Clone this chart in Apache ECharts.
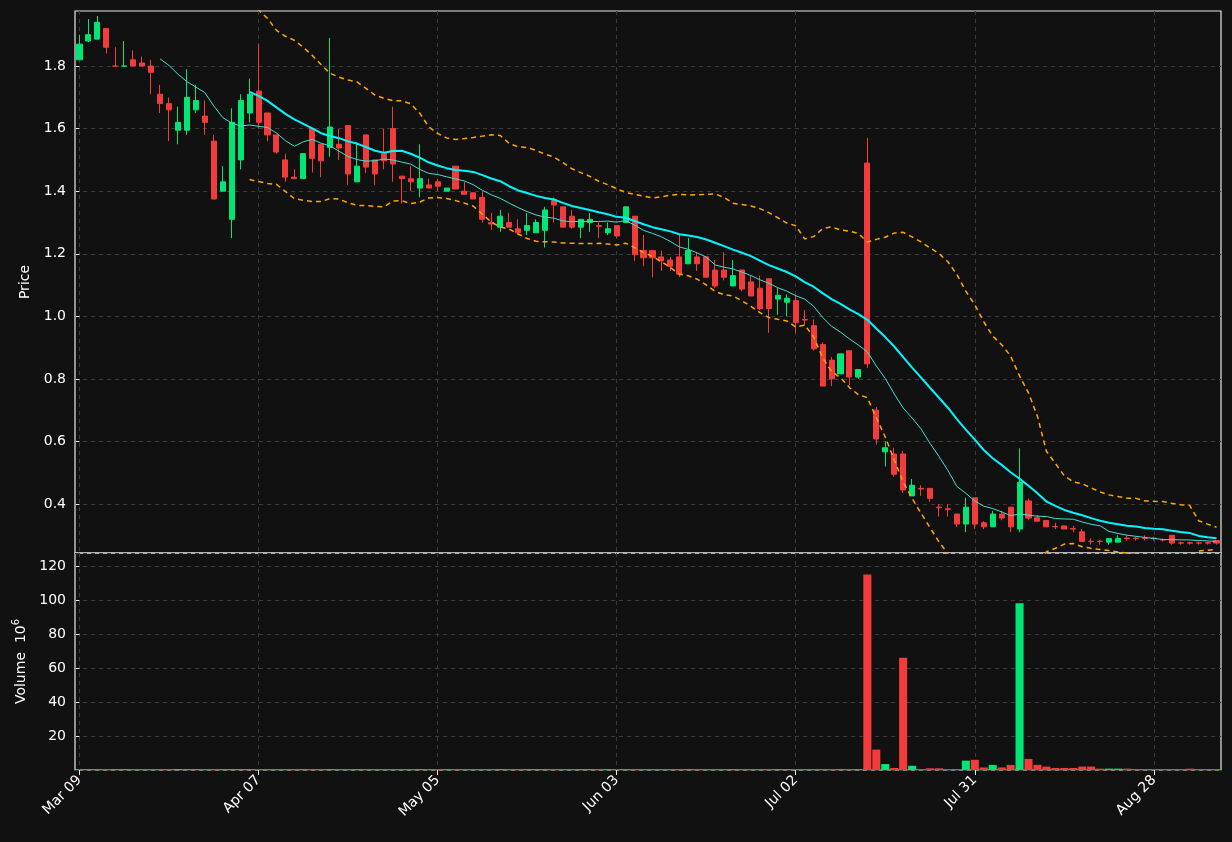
<!DOCTYPE html>
<html><head><meta charset="utf-8">
<script src="https://cdn.jsdelivr.net/npm/echarts@6/dist/echarts.min.js"></script>
<style>html,body{margin:0;background:#111111;}#c{width:1232px;height:842px;}</style>
</head><body><div id="c"></div>
<script>
const tickLabels = ['Mar 09','Apr 07','May 05','Jun 03','Jul 02','Jul 31','Aug 28'];
const priceTicks = [0.4,0.6,0.8,1.0,1.2,1.4,1.6,1.8];
// [open, close, low, high]
const ohlc = [
[1.82,1.87,1.82,1.90],[1.88,1.90,1.877,1.95],[1.886,1.94,1.886,1.96],[1.92,1.86,1.84,1.92],
[1.80,1.80,1.80,1.86],[1.80,1.80,1.80,1.88],[1.82,1.80,1.80,1.85],[1.81,1.80,1.80,1.83],
[1.80,1.78,1.71,1.82],[1.71,1.68,1.65,1.74],[1.68,1.66,1.56,1.70],[1.595,1.62,1.55,1.67],
[1.595,1.70,1.58,1.79],[1.66,1.69,1.65,1.74],[1.64,1.62,1.58,1.69],[1.56,1.375,1.375,1.58],
[1.40,1.43,1.40,1.48],[1.31,1.62,1.25,1.665],[1.50,1.69,1.47,1.71],[1.65,1.71,1.62,1.76],
[1.72,1.62,1.60,1.87],[1.65,1.58,1.56,1.65],[1.58,1.525,1.52,1.58],[1.50,1.445,1.43,1.52],
[1.445,1.44,1.44,1.47],[1.44,1.52,1.44,1.52],[1.60,1.505,1.46,1.60],[1.55,1.497,1.445,1.55],
[1.54,1.605,1.51,1.89],[1.55,1.538,1.50,1.60],[1.61,1.455,1.42,1.61],[1.43,1.48,1.43,1.555],
[1.58,1.477,1.458,1.58],[1.50,1.455,1.42,1.50],[1.52,1.497,1.47,1.60],[1.60,1.487,1.43,1.67],
[1.448,1.44,1.36,1.448],[1.44,1.43,1.40,1.48],[1.41,1.44,1.38,1.55],[1.42,1.41,1.41,1.44],
[1.43,1.416,1.40,1.44],[1.40,1.41,1.40,1.41],[1.48,1.407,1.407,1.48],[1.40,1.39,1.39,1.43],
[1.395,1.375,1.375,1.395],[1.38,1.31,1.30,1.40],[1.30,1.295,1.276,1.33],[1.285,1.32,1.27,1.34],
[1.30,1.285,1.285,1.33],[1.28,1.267,1.267,1.31],[1.275,1.29,1.26,1.33],[1.267,1.30,1.267,1.31],
[1.275,1.34,1.22,1.35],[1.37,1.356,1.30,1.38],[1.35,1.285,1.285,1.35],[1.32,1.285,1.28,1.34],
[1.285,1.31,1.25,1.31],[1.30,1.31,1.27,1.33],[1.29,1.288,1.25,1.30],[1.267,1.28,1.26,1.30],
[1.29,1.257,1.25,1.29],[1.30,1.35,1.30,1.35],[1.32,1.197,1.177,1.32],[1.21,1.187,1.16,1.26],
[1.21,1.187,1.125,1.21],[1.19,1.177,1.145,1.21],[1.18,1.16,1.145,1.19],[1.19,1.135,1.125,1.26],
[1.168,1.21,1.168,1.25],[1.19,1.168,1.145,1.205],[1.19,1.125,1.125,1.19],[1.148,1.097,1.09,1.18],
[1.148,1.125,1.115,1.205],[1.097,1.13,1.097,1.18],[1.148,1.087,1.08,1.148],[1.11,1.065,1.065,1.13],
[1.09,1.025,1.02,1.13],[1.12,1.025,0.947,1.12],[1.055,1.067,1.005,1.09],[1.045,1.058,1.0,1.07],
[1.05,0.98,0.947,1.07],[0.99,0.988,0.97,1.02],[0.97,0.896,0.89,0.99],[0.91,0.777,0.777,0.917],
[0.86,0.80,0.777,0.87],[0.816,0.88,0.816,0.88],[0.89,0.806,0.78,0.89],[0.806,0.83,0.80,0.83],
[1.49,0.848,0.835,1.57],[0.70,0.608,0.59,0.71],[0.567,0.58,0.52,0.60],[0.56,0.495,0.487,0.58],
[0.56,0.445,0.435,0.57],[0.426,0.46,0.426,0.48],[0.45,0.448,0.426,0.46],[0.45,0.418,0.407,0.45],
[0.39,0.388,0.36,0.40],[0.385,0.383,0.36,0.40],[0.368,0.336,0.327,0.368],[0.336,0.39,0.31,0.42],
[0.42,0.336,0.32,0.42],[0.34,0.327,0.32,0.345],[0.327,0.368,0.327,0.378],[0.368,0.355,0.348,0.378],
[0.39,0.327,0.31,0.39],[0.32,0.47,0.31,0.578],[0.41,0.355,0.348,0.418],[0.356,0.345,0.345,0.365],
[0.347,0.327,0.327,0.347],[0.328,0.327,0.32,0.34],[0.33,0.32,0.32,0.33],[0.321,0.32,0.31,0.33],
[0.311,0.28,0.28,0.32],[0.281,0.28,0.27,0.29],[0.281,0.28,0.27,0.285],[0.278,0.29,0.27,0.29],
[0.278,0.29,0.278,0.30],[0.291,0.29,0.283,0.30],[0.291,0.29,0.283,0.295],[0.291,0.29,0.283,0.30],
[0.291,0.29,0.283,0.295],[0.286,0.285,0.28,0.29],[0.30,0.275,0.27,0.30],[0.276,0.275,0.27,0.28],
[0.276,0.275,0.27,0.28],[0.276,0.275,0.27,0.28],[0.276,0.275,0.27,0.28],[0.283,0.275,0.27,0.283]
];
// volume in millions
const volume = [
0.2,0.2,0.2,0.2,0.2,0.2,0.2,0.2,0.2,0.2,0.2,0.6,0.2,0.2,0.2,0.2,0.2,0.2,0.2,0.2,
0.2,0.2,0.2,0.2,0.2,0.2,0.2,0.2,0.2,0.2,0.2,0.2,0.2,0.2,0.2,0.2,0.2,0.2,0.2,0.2,
0.2,0.2,0.2,0.2,0.2,0.2,0.2,0.2,0.2,0.2,0.2,0.2,0.2,0.2,0.2,0.2,0.2,0.2,0.2,0.2,
0.2,0.2,0.2,0.2,0.2,0.2,0.2,0.2,0.2,0.2,0.2,0.2,0.2,0.2,0.2,0.2,0.2,0.5,0.2,0.2,
0.2,0.2,0.2,0.2,0.5,0.2,0.2,0.2,115,12,3.5,1.2,66,2.5,0.6,1.0,1.0,0.6,0.6,5.5,
6,1.5,3,1.5,3,98,6.5,3,2,1.2,1.2,1.2,2,2,0.8,0.8,0.8,0.8,0.6,0.4,
0.4,0.4,0.4,0.4,0.8,0.4,0.4,0.6
];
const idx = ohlc.map((_, i) => i);
const closes = ohlc.map(d => d[1]);
function ma(n){ return closes.map((_, i) => { if (i < n-1) return null; let s=0; for(let k=i-n+1;k<=i;k++) s+=closes[k]; return +(s/n).toFixed(4); }); }
const ma10 = ma(10), ma20 = ma(20);
function band(sign){ return closes.map((_, i) => { if (i < 19) return null; const m=ma20[i]; let v=0; for(let k=i-19;k<=i;k++) v+=(closes[k]-m)**2; return +(m + sign*2*Math.sqrt(v/20)).toFixed(4); }); }
const upper = band(1), lower = band(-1);
const UP='#00e676', DN='#f23c3c';
const tickIdx = tickLabels.map((_, k) => k*20);
const font = 'DejaVu Sans';
const grid = {color:'#3a3a3a', type:[4,4]};
const catAxis = (g) => ({type:'category', gridIndex:g, position:'top', data:idx, boundaryGap:true,
  axisLine:{show:false}, axisTick:{show:false}, axisLabel:{show:false}, splitLine:{show:false}});
const valAxis = (g, labels) => ({type:'value', gridIndex:g, position:'bottom', min:-0.5, max:ohlc.length-0.5,
  axisLine:{show:false},
  axisTick:{show:labels, customValues:tickIdx, length:5, lineStyle:{color:'#e8e8e8'}},
  axisLabel:{show:labels, customValues:tickIdx, rotate:45, color:'#ffffff', fontSize:14, fontFamily:font, margin:8,
    formatter:(v)=> tickLabels[Math.round(v/20)] || ''},
  splitLine:{show:true, lineStyle:grid}});
const chart = echarts.init(document.getElementById('c'));
chart.setOption({
  backgroundColor:'#111111',
  animation:false,
  textStyle:{fontFamily:font},
  grid:[
    {left:75, right:11, top:11, height:542, show:true, borderColor:'#e8e8e8', borderWidth:1.2},
    {left:75, right:11, top:553, height:217, show:true, borderColor:'#e8e8e8', borderWidth:1.2}
  ],
  xAxis:[catAxis(0), catAxis(1), valAxis(0,false), valAxis(1,true)],
  yAxis:[
    {gridIndex:0, type:'value', min:0.2434, max:1.976,
     name:'Price', nameLocation:'middle', nameGap:40, nameTextStyle:{color:'#ffffff', fontSize:14, fontFamily:font},
     axisLine:{show:false},
     axisTick:{show:true, customValues:priceTicks, length:4, lineStyle:{color:'#e8e8e8'}},
     axisLabel:{customValues:priceTicks, color:'#ffffff', fontSize:14, fontFamily:font, margin:9, formatter:(v)=>v.toFixed(1)},
     splitLine:{show:true, lineStyle:grid}},
    {gridIndex:1, type:'value', min:0, max:127.6, interval:20,
     name:'{a|Volume  10}{s|6}', nameLocation:'middle', nameGap:43,
     nameTextStyle:{color:'#ffffff', fontSize:14, fontFamily:font, rich:{a:{color:'#fff',fontSize:14,fontFamily:font}, s:{color:'#fff',fontSize:10,fontFamily:font,verticalAlign:'top',padding:[0,0,10,0]}}},
     axisLine:{show:false}, axisTick:{show:true, length:4, lineStyle:{color:'#e8e8e8'}},
     axisLabel:{color:'#ffffff', fontSize:14, fontFamily:font, showMinLabel:false, showMaxLabel:false, margin:9},
     splitLine:{show:true, lineStyle:grid}}
  ],
  series:[
    {type:'candlestick', xAxisIndex:0, yAxisIndex:0, data:ohlc, barWidth:'62%',
     itemStyle:{color:UP, color0:DN, borderColor:UP, borderColor0:DN, borderWidth:1}},
    {type:'line', xAxisIndex:0, yAxisIndex:0, data:ma10, symbol:'none', lineStyle:{color:'#40e0d0', width:1}},
    {type:'line', xAxisIndex:0, yAxisIndex:0, data:ma20, symbol:'none', lineStyle:{color:'#00f5ff', width:2}},
    {type:'line', xAxisIndex:0, yAxisIndex:0, data:upper, symbol:'none', lineStyle:{color:'#ffa500', width:1.5, type:[5,4]}},
    {type:'line', xAxisIndex:0, yAxisIndex:0, data:lower, symbol:'none', lineStyle:{color:'#ffa500', width:1.5, type:[5,4]}},
    {type:'bar', xAxisIndex:1, yAxisIndex:1, barWidth:'90%',
     data: volume.map((v,i)=>({value:v, itemStyle:{color: ohlc[i][1]>=ohlc[i][0]?UP:DN}}))}
  ]
});
</script></body></html>
